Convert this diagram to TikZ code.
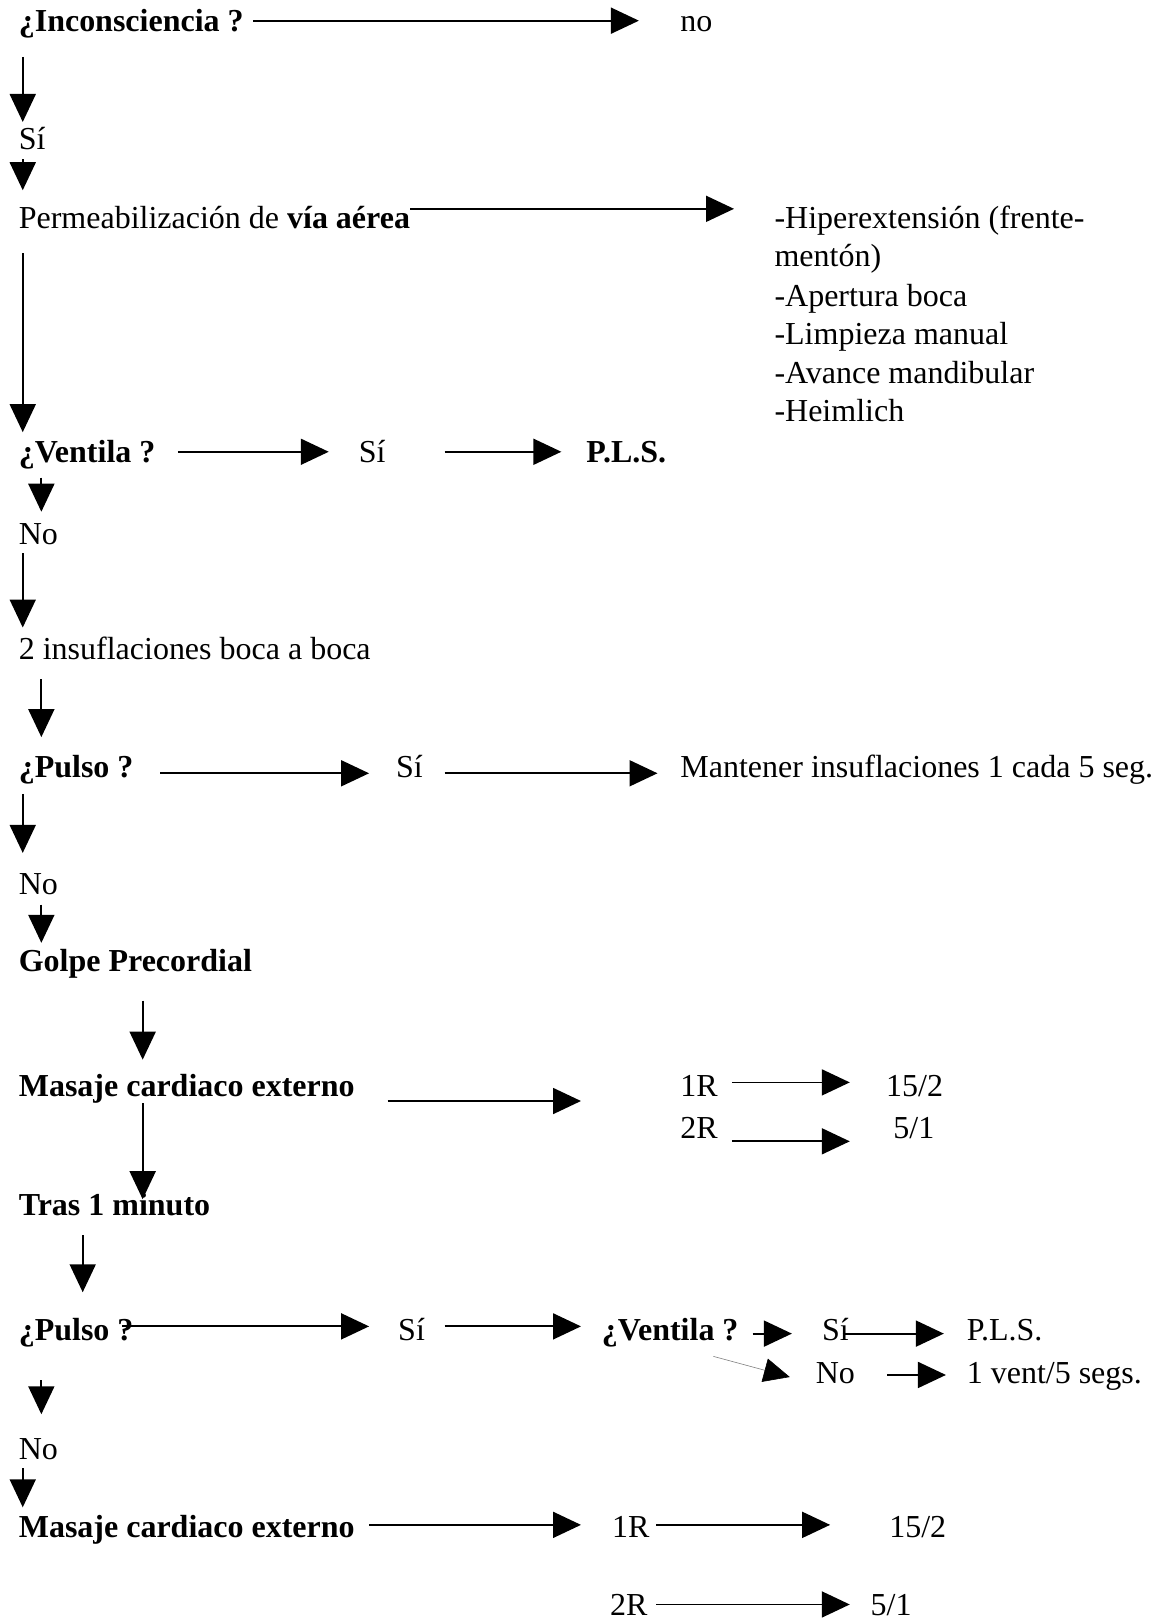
\documentclass[tikz,border=0pt]{standalone}
\usepackage{fontspec}
\setmainfont{Liberation Serif}
\usetikzlibrary{arrows.meta}
\begin{document}
\begin{tikzpicture}[x=1.0339pt, y=-1.0339pt,
  txt/.style={anchor=base west, inner sep=0pt, font=\fontsize{32}{38.8}\selectfont},
  bold/.style={txt, font=\fontsize{32}{38.8}\selectfont\bfseries},
  arr/.style={line width=1.8pt, -{Triangle[length=28pt,width=26pt]}},
  thinarr/.style={line width=0.6pt, gray, -{Triangle[length=26pt,width=24pt,color=black]}}]
\useasboundingbox (0,0) rectangle (1122,1568);
\fill[white] (0,0) rectangle (1122,1568);

% --- unconsciousness check
\node[bold] (inc) at (18,30) {¿Inconsciencia ?};
\node[txt] (no0) at (658,30) {no};
\coordinate (a1s) at (245,20); \coordinate (a1e) at (618,20);
\draw[arr] (a1s) -- (a1e);
\coordinate (v1s) at (22,55); \coordinate (v1e) at (22,118);
\draw[arr] (v1s) -- (v1e);
\node[txt] (si1) at (18,145) {Sí};
\coordinate (v2s) at (22,154); \coordinate (v2e) at (22,184);
\draw[arr] (v2s) -- (v2e);

% --- airway
\node[txt] (perm) at (18,221) {Permeabilización de \textbf{vía aérea}};
\coordinate (a2s) at (397,202); \coordinate (a2e) at (710,202);
\draw[arr] (a2s) -- (a2e);
\node[txt] (l1) at (749,221) {-Hiperextensión (frente-};
\node[txt] (l2) at (749,258) {mentón)};
\node[txt] (l3) at (749,296) {-Apertura boca};
\node[txt] (l4) at (749,333) {-Limpieza manual};
\node[txt] (l5) at (749,371) {-Avance mandibular};
\node[txt] (l6) at (749,408) {-Heimlich};
\coordinate (v3s) at (22,245); \coordinate (v3e) at (22,418);
\draw[arr] (v3s) -- (v3e);

% --- breathing
\node[bold] (vent1) at (18,447) {¿Ventila ?};
\coordinate (a3s) at (172,437); \coordinate (a3e) at (318,437);
\draw[arr] (a3s) -- (a3e);
\node[txt] (si2) at (347,447) {Sí};
\coordinate (a4s) at (430,437); \coordinate (a4e) at (543,437);
\draw[arr] (a4s) -- (a4e);
\node[bold] (pls1) at (567,447) {P.L.S.};
\coordinate (v4s) at (40,462); \coordinate (v4e) at (40,495);
\draw[arr] (v4s) -- (v4e);
\node[txt] (no1) at (18,527) {No};
\coordinate (v5s) at (22,535); \coordinate (v5e) at (22,607);
\draw[arr] (v5s) -- (v5e);
\node[txt] (ins) at (18,638) {2 insuflaciones boca a boca};
\coordinate (v6s) at (40,657); \coordinate (v6e) at (40,713);
\draw[arr] (v6s) -- (v6e);

% --- pulse
\node[bold] (pul1) at (18,752) {¿Pulso ?};
\coordinate (a5s) at (155,748); \coordinate (a5e) at (357,748);
\draw[arr] (a5s) -- (a5e);
\node[txt] (si3) at (383,752) {Sí};
\coordinate (a6s) at (430,748); \coordinate (a6e) at (636,748);
\draw[arr] (a6s) -- (a6e);
\node[txt] (mant) at (658,752) {Mantener insuflaciones 1 cada 5 seg.};
\coordinate (v7s) at (22,768); \coordinate (v7e) at (22,825);
\draw[arr] (v7s) -- (v7e);
\node[txt] (no2) at (18,865) {No};
\coordinate (v8s) at (40,875); \coordinate (v8e) at (40,912);
\draw[arr] (v8s) -- (v8e);
\node[bold] (golpe) at (18,940) {Golpe Precordial};
\coordinate (v9s) at (138,968); \coordinate (v9e) at (138,1025);
\draw[arr] (v9s) -- (v9e);

% --- first cardiac massage
\node[bold] (mas1) at (18,1061) {Masaje cardiaco externo};
\coordinate (a7s) at (375,1065); \coordinate (a7e) at (562,1065);
\draw[arr] (a7s) -- (a7e);
\node[txt] (r1a) at (658,1061) {1R};
\coordinate (a8s) at (708,1047); \coordinate (a8e) at (822,1047);
\draw[arr] (a8s) -- (a8e);
\node[txt] (v1a) at (857,1061) {15/2};
\node[txt] (r2a) at (658,1101) {2R};
\coordinate (a9s) at (708,1104); \coordinate (a9e) at (822,1104);
\draw[arr] (a9s) -- (a9e);
\node[txt] (v2a) at (864,1101) {5/1};
\coordinate (v10s) at (138,1067); \coordinate (v10e) at (138,1160);
\draw[arr] (v10s) -- (v10e);
\node[bold] (tras) at (18,1176) {Tras 1 minuto};
\coordinate (v11s) at (80,1195); \coordinate (v11e) at (80,1250);
\draw[arr] (v11s) -- (v11e);

% --- pulse re-check
\node[bold] (pul2) at (18,1297) {¿Pulso ?};
\coordinate (b1s) at (118,1283); \coordinate (b1e) at (357,1283);
\draw[arr] (b1s) -- (b1e);
\node[txt] (si4) at (385,1297) {Sí};
\coordinate (b2s) at (430,1283); \coordinate (b2e) at (562,1283);
\draw[arr] (b2s) -- (b2e);
\node[bold] (vent2) at (582,1297) {¿Ventila ?};
\coordinate (b3s) at (728,1290); \coordinate (b3e) at (766,1290);
\draw[arr] (b3s) -- (b3e);
\node[txt] (si5) at (795,1297) {Sí};
\coordinate (b4s) at (815,1290); \coordinate (b4e) at (913,1290);
\draw[arr] (b4s) -- (b4e);
\node[txt] (pls2) at (935,1297) {P.L.S.};
\coordinate (b5s) at (690,1312); \coordinate (b5e) at (764,1332);
\draw[thinarr] (b5s) -- (b5e);
\node[txt] (no3) at (789,1338) {No};
\coordinate (b6s) at (858,1330); \coordinate (b6e) at (915,1330);
\draw[arr] (b6s) -- (b6e);
\node[txt] (vent5) at (935,1338) {1 vent/5 segs.};
\coordinate (v12s) at (40,1335); \coordinate (v12e) at (40,1368);
\draw[arr] (v12s) -- (v12e);
\node[txt] (no4) at (18,1412) {No};
\coordinate (v13s) at (22,1420); \coordinate (v13e) at (22,1458);
\draw[arr] (v13s) -- (v13e);

% --- second cardiac massage
\node[bold] (mas2) at (18,1487) {Masaje cardiaco externo};
\coordinate (c1s) at (357,1475); \coordinate (c1e) at (562,1475);
\draw[arr] (c1s) -- (c1e);
\node[txt] (r1b) at (592,1487) {1R};
\coordinate (c2s) at (635,1475); \coordinate (c2e) at (803,1475);
\draw[arr] (c2s) -- (c2e);
\node[txt] (v1b) at (860,1487) {15/2};
\node[txt] (r2b) at (590,1563) {2R};
\coordinate (c3s) at (635,1552); \coordinate (c3e) at (822,1552);
\draw[arr] (c3s) -- (c3e);
\node[txt] (v2b) at (842,1563) {5/1};
\end{tikzpicture}
\end{document}
